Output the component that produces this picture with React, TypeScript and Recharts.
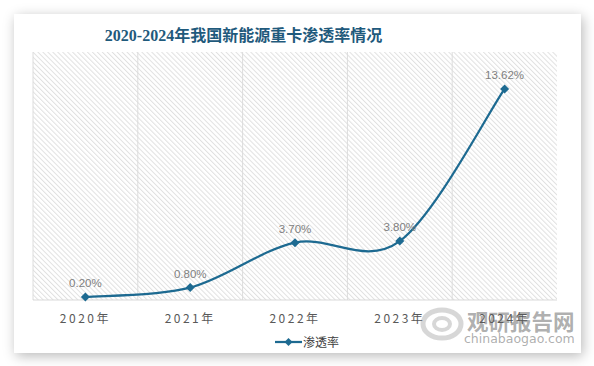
import { LineChart, Line, XAxis, YAxis, CartesianGrid, LabelList } from "recharts"

const years = ["2020年", "2021年", "2022年", "2023年", "2024年"]
const penetration = [0.2, 0.8, 3.7, 3.8, 13.62]

const data = years.map((year, i) => ({ year, value: penetration[i] }))

const LINE_COLOR = "#1d6a91"
const CJK = "'Noto Sans CJK SC', 'Noto Sans', sans-serif"

// Excel-style smoothed line (Catmull-Rom as bezier)
const excelCurve = (context: any) => {
  let pts: number[][] = []
  return {
    areaStart() {},
    areaEnd() {},
    lineStart() {
      pts = []
    },
    point(x: number, y: number) {
      pts.push([+x, +y])
    },
    lineEnd() {
      const n = pts.length
      if (!n) return
      context.moveTo(pts[0][0], pts[0][1])
      for (let i = 0; i < n - 1; i++) {
        const p0 = pts[Math.max(i - 1, 0)]
        const p1 = pts[i]
        const p2 = pts[i + 1]
        const p3 = pts[Math.min(i + 2, n - 1)]
        context.bezierCurveTo(
          p1[0] + (p2[0] - p0[0]) / 6,
          p1[1] + (p2[1] - p0[1]) / 6,
          p2[0] - (p3[0] - p1[0]) / 6,
          p2[1] - (p3[1] - p1[1]) / 6,
          p2[0],
          p2[1]
        )
      }
    },
  }
}

const Diamond = (props: any) => {
  const { cx, cy } = props
  if (cx == null || cy == null) return null
  const r = 4.5
  return (
    <polygon
      points={`${cx},${cy - r} ${cx + r},${cy} ${cx},${cy + r} ${cx - r},${cy}`}
      fill={LINE_COLOR}
    />
  )
}

export default function App() {
  return (
    <div style={{ position: "absolute", left: 0, top: 0, width: 594, height: 366, background: "#fff", overflow: "hidden" }}>
      <div
        style={{
          position: "absolute",
          left: 14,
          top: 14,
          width: 567,
          height: 339,
          background: "#fff",
          boxShadow: "2px 3px 12px rgba(0,0,0,0.28)",
        }}
      />
      <div
        style={{
          position: "absolute",
          left: 0,
          width: 487,
          top: 24,
          textAlign: "center",
          fontFamily: "'Liberation Serif', 'Noto Sans CJK SC', serif",
          fontWeight: "bold",
          fontSize: 16,
          color: "#1f5a7c",
          lineHeight: "24px",
        }}
      >
        2020-2024年我国新能源重卡渗透率情况
      </div>

      {/* watermark */}
      <div style={{ position: "absolute", left: 420, top: 306, width: 44, height: 36, opacity: 0.45 }}>
        <svg width={44} height={36}>
          <ellipse cx={22} cy={18} rx={19} ry={14} fill="none" stroke="#a8a8a8" strokeWidth={5} />
          <ellipse cx={22} cy={18} rx={8} ry={6} fill="none" stroke="#a8a8a8" strokeWidth={4} />
        </svg>
      </div>
      <div
        style={{
          position: "absolute",
          left: 467,
          top: 307,
          fontFamily: CJK,
          fontWeight: "bold",
          fontSize: 21.5,
          lineHeight: "28px",
          color: "rgba(130,130,130,0.65)",
        }}
      >
        观研报告网
      </div>
      <div
        style={{
          position: "absolute",
          left: 464,
          top: 331,
          fontFamily: "'DejaVu Sans', sans-serif",
          fontSize: 12.5,
          lineHeight: "16px",
          color: "rgba(130,130,130,0.65)",
        }}
      >
        chinabaogao.com
      </div>

      <div style={{ position: "absolute", left: 0, top: 0 }}>
        <LineChart width={594} height={366} data={data} margin={{ top: 52, right: 37, left: 33, bottom: 0 }}>
          <defs>
            <pattern id="hatch" width="3.5" height="3.5" patternUnits="userSpaceOnUse" patternTransform="rotate(-45)">
              <rect width="1" height="3.5" fill="#e0e0e0" />
            </pattern>
          </defs>
          <CartesianGrid
            horizontal={false}
            fill="url(#hatch)"
            stroke="#dcdcdc"
            strokeWidth={1}
            verticalCoordinatesGenerator={({ offset }: any) => {
              const step = offset.width / years.length
              return years.map((_, i) => offset.left + i * step)
            }}
          />
          <XAxis
            dataKey="year"
            scale="band"
            height={66}
            tickLine={false}
            tickMargin={8}
            axisLine={{ stroke: "#d9d9d9" }}
            tick={{ fill: "#595959", fontSize: 12, letterSpacing: 2.5, fontFamily: CJK }}
          />
          <YAxis hide domain={[0, 16]} />
          <Line
            dataKey="value"
            type={excelCurve as any}
            stroke={LINE_COLOR}
            strokeWidth={2.25}
            dot={<Diamond />}
            activeDot={false}
            isAnimationActive={false}
          >
            <LabelList
              dataKey="value"
              position="top"
              offset={10}
              formatter={(v: any) => `${Number(v).toFixed(2)}%`}
              fill="#7f7f7f"
              fontSize={11.5}
              fontFamily="'Liberation Sans', 'Open Sans', sans-serif"
            />
          </Line>
        </LineChart>
      </div>

      {/* legend */}
      <div style={{ position: "absolute", left: 275, top: 334, display: "flex", alignItems: "center" }}>
        <svg width={28} height={16}>
          <line x1={0} y1={8} x2={27} y2={8} stroke={LINE_COLOR} strokeWidth={2.25} />
          <polygon points="13.5,4 17.5,8 13.5,12 9.5,8" fill={LINE_COLOR} />
        </svg>
        <span style={{ fontFamily: CJK, fontSize: 12, color: "#404040", lineHeight: "16px" }}>渗透率</span>
      </div>
    </div>
  )
}
